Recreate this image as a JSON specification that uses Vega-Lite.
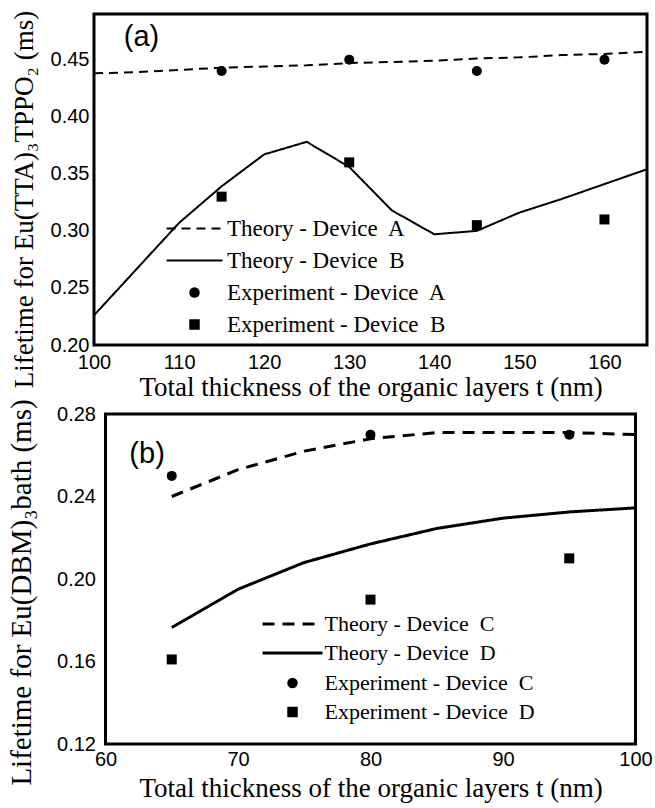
{
  "$schema": "https://vega.github.io/schema/vega-lite/v6.json",
  "background": "white",
  "padding": {"left": 5, "top": 8, "right": 0, "bottom": 5},
  "bounds": "flush",
  "center": true,
  "spacing": 69,
  "resolve": {
    "scale": {"shape": "independent", "strokeDash": "independent"},
    "legend": {"shape": "independent", "strokeDash": "independent"}
  },
  "config": {
    "view": {"stroke": "black", "strokeWidth": 3},
    "axis": {
      "labelFont": "Liberation Sans", "labelFontSize": 20, "labelColor": "black",
      "ticks": false, "domain": false, "grid": false,
      "titleFont": "Liberation Serif", "titleFontWeight": "normal", "titleColor": "black",
      "labelFlush": false, "labelOverlap": false
    }
  },
  "datasets": {
    "a": [
      {"k": "t", "s": "Theory - Device\u00a0 A", "x": 100, "y": 0.438},
      {"k": "t", "s": "Theory - Device\u00a0 A", "x": 105, "y": 0.439},
      {"k": "t", "s": "Theory - Device\u00a0 A", "x": 110, "y": 0.441},
      {"k": "t", "s": "Theory - Device\u00a0 A", "x": 115, "y": 0.443},
      {"k": "t", "s": "Theory - Device\u00a0 A", "x": 120, "y": 0.444},
      {"k": "t", "s": "Theory - Device\u00a0 A", "x": 125, "y": 0.445},
      {"k": "t", "s": "Theory - Device\u00a0 A", "x": 130, "y": 0.447},
      {"k": "t", "s": "Theory - Device\u00a0 A", "x": 135, "y": 0.448},
      {"k": "t", "s": "Theory - Device\u00a0 A", "x": 140, "y": 0.449},
      {"k": "t", "s": "Theory - Device\u00a0 A", "x": 145, "y": 0.451},
      {"k": "t", "s": "Theory - Device\u00a0 A", "x": 150, "y": 0.452},
      {"k": "t", "s": "Theory - Device\u00a0 A", "x": 155, "y": 0.454},
      {"k": "t", "s": "Theory - Device\u00a0 A", "x": 160, "y": 0.455},
      {"k": "t", "s": "Theory - Device\u00a0 A", "x": 165, "y": 0.457},
      {"k": "t", "s": "Theory - Device\u00a0 B", "x": 100, "y": 0.226},
      {"k": "t", "s": "Theory - Device\u00a0 B", "x": 110, "y": 0.307},
      {"k": "t", "s": "Theory - Device\u00a0 B", "x": 115, "y": 0.339},
      {"k": "t", "s": "Theory - Device\u00a0 B", "x": 120, "y": 0.367},
      {"k": "t", "s": "Theory - Device\u00a0 B", "x": 125, "y": 0.378},
      {"k": "t", "s": "Theory - Device\u00a0 B", "x": 130, "y": 0.356},
      {"k": "t", "s": "Theory - Device\u00a0 B", "x": 135, "y": 0.318},
      {"k": "t", "s": "Theory - Device\u00a0 B", "x": 140, "y": 0.297},
      {"k": "t", "s": "Theory - Device\u00a0 B", "x": 145, "y": 0.300},
      {"k": "t", "s": "Theory - Device\u00a0 B", "x": 150, "y": 0.316},
      {"k": "t", "s": "Theory - Device\u00a0 B", "x": 155, "y": 0.328},
      {"k": "t", "s": "Theory - Device\u00a0 B", "x": 160, "y": 0.341},
      {"k": "t", "s": "Theory - Device\u00a0 B", "x": 165, "y": 0.354},
      {"k": "e", "s": "Experiment - Device\u00a0 A", "x": 115, "y": 0.44},
      {"k": "e", "s": "Experiment - Device\u00a0 A", "x": 130, "y": 0.45},
      {"k": "e", "s": "Experiment - Device\u00a0 A", "x": 145, "y": 0.44},
      {"k": "e", "s": "Experiment - Device\u00a0 A", "x": 160, "y": 0.45},
      {"k": "e", "s": "Experiment - Device\u00a0 B", "x": 115, "y": 0.33},
      {"k": "e", "s": "Experiment - Device\u00a0 B", "x": 130, "y": 0.36},
      {"k": "e", "s": "Experiment - Device\u00a0 B", "x": 145, "y": 0.305},
      {"k": "e", "s": "Experiment - Device\u00a0 B", "x": 160, "y": 0.31},
      {"k": "lab", "s": "(a)", "x": 103.5, "y": 0.47}
    ],
    "b": [
      {"k": "t", "s": "Theory - Device\u00a0 C", "x": 65, "y": 0.240},
      {"k": "t", "s": "Theory - Device\u00a0 C", "x": 70, "y": 0.253},
      {"k": "t", "s": "Theory - Device\u00a0 C", "x": 75, "y": 0.262},
      {"k": "t", "s": "Theory - Device\u00a0 C", "x": 80, "y": 0.268},
      {"k": "t", "s": "Theory - Device\u00a0 C", "x": 85, "y": 0.271},
      {"k": "t", "s": "Theory - Device\u00a0 C", "x": 90, "y": 0.271},
      {"k": "t", "s": "Theory - Device\u00a0 C", "x": 95, "y": 0.271},
      {"k": "t", "s": "Theory - Device\u00a0 C", "x": 100, "y": 0.270},
      {"k": "t", "s": "Theory - Device\u00a0 D", "x": 65, "y": 0.1765},
      {"k": "t", "s": "Theory - Device\u00a0 D", "x": 70, "y": 0.195},
      {"k": "t", "s": "Theory - Device\u00a0 D", "x": 75, "y": 0.208},
      {"k": "t", "s": "Theory - Device\u00a0 D", "x": 80, "y": 0.217},
      {"k": "t", "s": "Theory - Device\u00a0 D", "x": 85, "y": 0.2245},
      {"k": "t", "s": "Theory - Device\u00a0 D", "x": 90, "y": 0.2295},
      {"k": "t", "s": "Theory - Device\u00a0 D", "x": 95, "y": 0.2325},
      {"k": "t", "s": "Theory - Device\u00a0 D", "x": 100, "y": 0.2345},
      {"k": "e", "s": "Experiment - Device\u00a0 C", "x": 65, "y": 0.25},
      {"k": "e", "s": "Experiment - Device\u00a0 C", "x": 80, "y": 0.27},
      {"k": "e", "s": "Experiment - Device\u00a0 C", "x": 95, "y": 0.27},
      {"k": "e", "s": "Experiment - Device\u00a0 D", "x": 65, "y": 0.161},
      {"k": "e", "s": "Experiment - Device\u00a0 D", "x": 80, "y": 0.19},
      {"k": "e", "s": "Experiment - Device\u00a0 D", "x": 95, "y": 0.21},
      {"k": "lab", "s": "(b)", "x": 61.8, "y": 0.2606}
    ]
  },
  "vconcat": [
    {
      "width": 553, "height": 331,
      "data": {"name": "a"},
      "encoding": {
        "x": {"field": "x", "type": "quantitative",
          "scale": {"domain": [100, 165], "nice": false, "zero": false},
          "axis": {
            "title": "Total thickness of the organic layers t (nm)",
            "titleFontSize": 27, "titleBaseline": "alphabetic", "titleY": 50,
            "values": [100,110,120,130,140,150,160],
            "labelPadding": 7
          }},
        "y": {"field": "y", "type": "quantitative",
          "scale": {"domain": [0.2, 0.49], "nice": false, "zero": false},
          "axis": {
            "title": "Lifetime for Eu(TTA)₃TPPO₂ (ms)",
            "titleFontSize": 27, "titleAngle": 270, "titleBaseline": "alphabetic",
            "titleX": -62, "titleY": 185,
            "values": [0.2,0.25,0.3,0.35,0.4,0.45],
            "format": ".2f",
            "labelPadding": 5
          }}
      },
      "layer": [
        {"transform": [{"filter": "datum.k === 't'"}],
          "mark": {"type": "line", "color": "black", "strokeWidth": 2},
          "encoding": {
            "strokeDash": {"field": "s", "type": "nominal",
              "scale": {"domain": ["Theory - Device\u00a0 A", "Theory - Device\u00a0 B"], "range": [[9, 6], [1, 0]]},
              "legend": {
                "title": null, "orient": "none", "legendX": 89, "legendY": 203,
                "labelFont": "Liberation Serif", "labelFontSize": 23, "labelColor": "black", "labelLimit": 400,
                "symbolType": "M-5.6,0H5.6", "symbolSize": 100, "symbolStrokeWidth": 2, "symbolStrokeColor": "black",
                "labelOffset": 21, "rowPadding": 8
              }}
          }},
        {"transform": [{"filter": "datum.k === 'lab'"}],
          "mark": {"type": "text", "font": "Liberation Sans", "fontSize": 29, "align": "left", "baseline": "middle", "color": "black"},
          "encoding": {"text": {"field": "s"}}},
        {"transform": [{"filter": "datum.k === 'e'"}],
          "mark": {"type": "point", "filled": true, "color": "black", "opacity": 1, "size": 100},
          "encoding": {
            "shape": {"field": "s", "type": "nominal",
              "scale": {"domain": ["Experiment - Device\u00a0 A", "Experiment - Device\u00a0 B"], "range": ["circle", "square"]},
              "legend": {
                "title": null, "orient": "none", "legendX": 89, "legendY": 267,
                "labelFont": "Liberation Serif", "labelFontSize": 23, "labelColor": "black", "labelLimit": 400,
                "symbolSize": 110, "labelOffset": 21, "rowPadding": 8
              }}
          }}
      ]
    },
    {
      "width": 530, "height": 330,
      "data": {"name": "b"},
      "encoding": {
        "x": {"field": "x", "type": "quantitative",
          "scale": {"domain": [60, 100], "nice": false, "zero": false},
          "axis": {
            "title": "Total thickness of the organic layers t (nm)",
            "titleFontSize": 27, "titleBaseline": "alphabetic", "titleY": 52,
            "values": [60,70,80,90,100],
            "labelPadding": 5
          }},
        "y": {"field": "y", "type": "quantitative",
          "scale": {"domain": [0.12, 0.28], "nice": false, "zero": false},
          "axis": {
            "title": "Lifetime for Eu(DBM)₃bath (ms)",
            "titleFontSize": 29, "titleAngle": 270, "titleBaseline": "alphabetic",
            "titleX": -75, "titleY": 178,
            "values": [0.12,0.16,0.2,0.24,0.28],
            "format": ".2f",
            "labelPadding": 10
          }}
      },
      "layer": [
        {"transform": [{"filter": "datum.k === 't'"}],
          "mark": {"type": "line", "color": "black", "strokeWidth": 3},
          "encoding": {
            "strokeDash": {"field": "s", "type": "nominal",
              "scale": {"domain": ["Theory - Device\u00a0 C", "Theory - Device\u00a0 D"], "range": [[12, 8], [1, 0]]},
              "legend": {
                "title": null, "orient": "none", "legendX": 176, "legendY": 199,
                "labelFont": "Liberation Serif", "labelFontSize": 22, "labelColor": "black", "labelLimit": 400,
                "symbolType": "M-6,0H6", "symbolSize": 100, "symbolStrokeWidth": 3, "symbolStrokeColor": "black",
                "labelOffset": 21, "rowPadding": 7
              }}
          }},
        {"transform": [{"filter": "datum.k === 'lab'"}],
          "mark": {"type": "text", "font": "Liberation Sans", "fontSize": 29, "align": "left", "baseline": "middle", "color": "black"},
          "encoding": {"text": {"field": "s"}}},
        {"transform": [{"filter": "datum.k === 'e'"}],
          "mark": {"type": "point", "filled": true, "color": "black", "opacity": 1, "size": 100},
          "encoding": {
            "shape": {"field": "s", "type": "nominal",
              "scale": {"domain": ["Experiment - Device\u00a0 C", "Experiment - Device\u00a0 D"], "range": ["circle", "square"]},
              "legend": {
                "title": null, "orient": "none", "legendX": 176, "legendY": 258,
                "labelFont": "Liberation Serif", "labelFontSize": 22, "labelColor": "black", "labelLimit": 400,
                "symbolSize": 110, "labelOffset": 21, "rowPadding": 7
              }}
          }}
      ]
    }
  ]
}
